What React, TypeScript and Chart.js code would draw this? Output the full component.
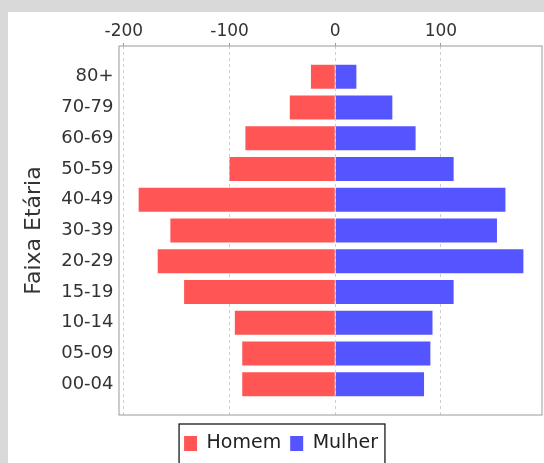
import React, { useEffect, useRef } from 'react';
import { Chart, registerables } from 'chart.js';

Chart.register(...registerables);

// faixas etárias, de cima para baixo
const AGES = ['80+', '70-79', '60-69', '50-59', '40-49', '30-39', '20-29', '15-19', '10-14', '05-09', '00-04'];
const HOMEM = [23, 43, 85, 100, 186, 156, 168, 143, 95, 88, 88];
const MULHER = [20, 54, 76, 112, 161, 153, 178, 112, 92, 90, 84];
const X_TICKS = [-200, -100, 0, 100];

const FONT = 'DejaVu Sans';

const frame = {
  id: 'frame',
  afterDatasetsDraw(chart: any) {
    const { ctx, chartArea: a } = chart;
    ctx.save();
    ctx.strokeStyle = '#9a9a9a';
    ctx.lineWidth = 1;
    ctx.strokeRect(a.left, a.top, a.right - a.left, a.bottom - a.top);
    ctx.restore();
  },
  afterDraw(chart: any) {
    const boxes = chart.legend?.legendHitBoxes;
    if (!boxes || !boxes.length) return;
    const { ctx } = chart;
    const left = Math.min(...boxes.map((b: any) => b.left)) - 5;
    const right = Math.max(...boxes.map((b: any) => b.left + b.width)) + 7;
    const top = boxes[0].top - 10;
    ctx.save();
    ctx.strokeStyle = '#1a1a1a';
    ctx.lineWidth = 1.3;
    ctx.strokeRect(left, top, right - left, 60);
    ctx.restore();
  },
};

const App: React.FC = () => {
  const canvasRef = useRef<HTMLCanvasElement>(null);

  useEffect(() => {
    if (!canvasRef.current) return;
    const chart = new Chart(canvasRef.current, {
      type: 'bar',
      data: {
        datasets: [
          {
            label: 'Homem',
            data: HOMEM.map((v, i) => ({ x: -v, y: i })),
            backgroundColor: '#ff5555',
            borderWidth: 0,
          },
          {
            label: 'Mulher',
            data: MULHER.map((v, i) => ({ x: v, y: i })),
            backgroundColor: '#5555ff',
            borderWidth: 0,
          },
        ],
      },
      plugins: [frame],
      options: {
        indexAxis: 'y',
        animation: false,
        responsive: true,
        maintainAspectRatio: false,
        categoryPercentage: 1,
        barPercentage: 0.78,
        layout: { padding: { left: 12, right: 2, top: 0, bottom: 0 } },
        plugins: {
          tooltip: { enabled: false },
          legend: {
            position: 'bottom',
            labels: {
              font: { family: FONT, size: 19 },
              color: '#222',
              boxWidth: 13,
              boxHeight: 15,
              padding: 9,
            },
          },
        },
        scales: {
          x: {
            type: 'linear',
            position: 'top',
            stacked: true,
            min: -204.6,
            max: 195.6,
            afterBuildTicks: (s: any) => {
              s.ticks = X_TICKS.map((v) => ({ value: v }));
            },
            afterFit: (s: any) => {
              s.height = 34;
            },
            grid: {
              color: '#cfcfcf',
              tickColor: '#9a9a9a',
              tickLength: 3,
              tickBorderDash: [],
            },
            border: { display: false, dash: [3, 3] },
            ticks: {
              font: { family: FONT, size: 17 },
              color: '#333',
              padding: 1,
              maxRotation: 0,
            },
          },
          y: {
            type: 'linear',
            reverse: true,
            stacked: true,
            offset: false,
            min: -1,
            max: 11,
            afterBuildTicks: (s: any) => {
              s.ticks = AGES.map((_, i) => ({ value: i }));
            },
            afterFit: (s: any) => {
              s.width = 99;
            },
            grid: { display: false, drawTicks: false, offset: false },
            border: { display: false },
            ticks: {
              font: { family: FONT, size: 18 },
              color: '#333',
              padding: 5.5,
              callback: (v: any) => AGES[v] ?? '',
            },
            title: {
              display: true,
              text: 'Faixa Etária',
              font: { family: FONT, size: 22 },
              color: '#333',
              padding: { top: 1.5, bottom: 0 },
            },
          },
          gap: {
            type: 'linear',
            axis: 'x',
            position: 'bottom',
            display: true,
            grid: { display: false, drawTicks: false },
            border: { display: false },
            ticks: { display: false },
            afterFit: (s: any) => {
              s.height = 10;
            },
          },
        },
      } as any,
    });
    return () => chart.destroy();
  }, []);

  return (
    <div style={{ position: 'fixed', left: 0, top: 0, width: 544, height: 463, background: '#d9d9d9', overflow: 'hidden' }}>
      <div style={{ position: 'absolute', left: 8, top: 12, width: 536, height: 451, background: '#fff' }}>
        <canvas ref={canvasRef}></canvas>
      </div>
    </div>
  );
};

export default App;
